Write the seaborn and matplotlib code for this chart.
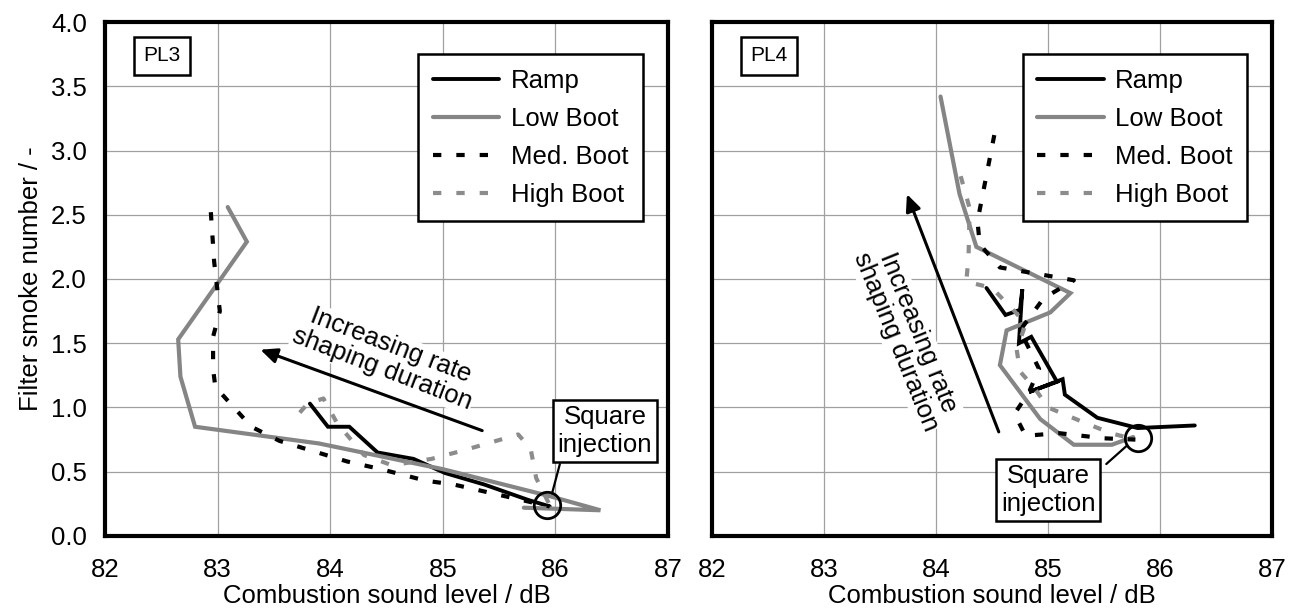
import matplotlib
matplotlib.use("Agg")
import matplotlib.pyplot as plt
from matplotlib.ticker import MultipleLocator, NullFormatter
import pandas as pd
import seaborn as sns

# ---- PL3 (left panel) ----
pl3_ramp_x = [83.82, 83.98, 84.17, 84.42, 84.74, 85.02, 85.37, 85.76, 85.95]
pl3_ramp_y = [1.03, 0.85, 0.85, 0.65, 0.60, 0.49, 0.40, 0.28, 0.23]
pl3_low_x = [83.09, 83.26, 82.65, 82.67, 82.80, 83.90, 85.00, 85.95, 86.40, 85.72]
pl3_low_y = [2.56, 2.29, 1.53, 1.24, 0.85, 0.72, 0.52, 0.31, 0.20, 0.22]
pl3_med_x = [82.94, 82.97, 83.02, 82.96, 82.96, 82.98, 83.30, 83.55, 84.15, 84.45, 84.85, 85.10, 85.55, 85.95]
pl3_med_y = [2.52, 2.13, 1.75, 1.55, 1.30, 1.16, 0.85, 0.74, 0.58, 0.52, 0.43, 0.40, 0.31, 0.23]
pl3_high_x = [83.73, 83.80, 83.94, 84.06, 84.30, 84.55, 84.90, 85.20, 85.67, 85.78, 85.83, 85.95]
pl3_high_y = [0.96, 1.03, 1.07, 0.88, 0.63, 0.55, 0.60, 0.67, 0.79, 0.68, 0.45, 0.24]

# ---- PL4 (right panel) ----
pl4_ramp_x = [84.45, 84.62, 84.75, 84.77, 84.74, 84.85, 85.08, 84.83, 85.13, 85.15, 85.44, 85.80, 86.31]
pl4_ramp_y = [1.93, 1.72, 1.76, 1.92, 1.50, 1.55, 1.20, 1.12, 1.22, 1.10, 0.92, 0.84, 0.86]
pl4_low_x = [84.04, 84.21, 84.36, 85.20, 85.02, 84.63, 84.57, 84.93, 85.23, 85.57, 85.76]
pl4_low_y = [3.42, 2.66, 2.25, 1.89, 1.74, 1.60, 1.33, 0.91, 0.71, 0.71, 0.77]
pl4_med_x = [84.52, 84.37, 84.39, 84.57, 84.97, 85.23, 84.96, 84.75, 84.92, 84.83, 84.70, 84.80, 85.10, 85.50, 85.78]
pl4_med_y = [3.12, 2.45, 2.27, 2.09, 2.03, 1.99, 1.85, 1.60, 1.30, 1.12, 0.95, 0.78, 0.80, 0.76, 0.75]
pl4_high_x = [84.22, 84.30, 84.29, 84.27, 84.50, 84.70, 84.80, 84.72, 84.75, 84.88, 85.00, 85.33, 85.56, 85.78]
pl4_high_y = [2.80, 2.55, 2.17, 1.98, 1.93, 1.75, 1.65, 1.45, 1.28, 1.15, 1.00, 0.88, 0.80, 0.75]

series_names = ["Ramp", "Low Boot", "Med. Boot", "High Boot"]
panel_names = ["PL3", "PL4"]

# annotation anchors (data coords)
square_pt = {"PL3": (85.93, 0.24), "PL4": (85.80, 0.76)}
square_box = {"PL3": (86.44, 0.82), "PL4": (85.00, 0.36)}
square_leader = {"PL3": ((86.04, 0.56), (85.97, 0.33)), "PL4": ((85.52, 0.56), (85.70, 0.70))}
arrow_tail = {"PL3": (85.35, 0.82), "PL4": (84.56, 0.81)}
arrow_head = {"PL3": (83.38, 1.45), "PL4": (83.74, 2.66)}
arrow_text = {"PL3": (84.50, 1.39, -21), "PL4": (83.74, 1.55, -68)}

colors = {"Ramp": "black", "Low Boot": "#858585", "Med. Boot": "black", "High Boot": "#8c8c8c"}
dashes = {"Ramp": None, "Low Boot": None, "Med. Boot": (2.0, 3.6), "High Boot": (2.0, 3.6)}
widths = {"Ramp": 2.8, "Low Boot": 3.0, "Med. Boot": 3.0, "High Boot": 3.0}
FS = 18.5


def build_frame(panel, sets):
    rows = []
    for name, (xs, ys) in zip(series_names, sets):
        for i, (x, y) in enumerate(zip(xs, ys)):
            rows.append({"panel": panel, "series": name, "step": i, "x": x, "y": y})
    return pd.DataFrame(rows)


df = pd.concat([
    build_frame("PL3", [(pl3_ramp_x, pl3_ramp_y), (pl3_low_x, pl3_low_y),
                        (pl3_med_x, pl3_med_y), (pl3_high_x, pl3_high_y)]),
    build_frame("PL4", [(pl4_ramp_x, pl4_ramp_y), (pl4_low_x, pl4_low_y),
                        (pl4_med_x, pl4_med_y), (pl4_high_x, pl4_high_y)]),
], ignore_index=True)

sns.set_style("white")
plt.rcParams["font.family"] = ["Liberation Sans", "DejaVu Sans"]
plt.rcParams["text.color"] = "black"
plt.rcParams["axes.labelcolor"] = "black"
plt.rcParams["xtick.color"] = "black"
plt.rcParams["ytick.color"] = "black"

fig = plt.figure(figsize=(12.93, 6.15), dpi=100)
axes = [fig.add_axes([0.0812, 0.1285, 0.4354, 0.8357]),
        fig.add_axes([0.5507, 0.1285, 0.4331, 0.8357])]

for ax, panel in zip(axes, panel_names):
    sub = df[df["panel"] == panel]
    handles = []
    for name in series_names:
        s = sub[sub["series"] == name]
        sns.lineplot(data=s, x="x", y="y", sort=False, estimator=None,
                     color=colors[name], lw=widths[name], ax=ax, legend=False)
        line = ax.lines[-1]
        line.set_label(name)
        line.set_solid_joinstyle("miter")
        if dashes[name]:
            line.set_dashes(dashes[name])
            line.set_dash_capstyle("butt")
        handles.append(line)

    ax.set_xlim(82, 87)
    ax.set_ylim(0, 4)
    ax.xaxis.set_major_locator(MultipleLocator(1))
    ax.xaxis.set_minor_locator(MultipleLocator(0.2))
    ax.yaxis.set_major_locator(MultipleLocator(0.5))
    ax.yaxis.set_minor_locator(MultipleLocator(0.0625))
    ax.yaxis.set_major_formatter(matplotlib.ticker.FormatStrFormatter("%.1f"))
    ax.grid(True, which="major", color="#a0a0a0", lw=0.9)
    ax.set_axisbelow(True)
    ax.tick_params(which="major", direction="out", length=6, width=2.4,
                   labelsize=FS, labelcolor="black", color="black", pad=7)
    ax.tick_params(axis="x", which="major", pad=10)
    ax.tick_params(which="minor", direction="out", length=4, width=2.2, color="black")
    for sp in ax.spines.values():
        sp.set_linewidth(3.0)
        sp.set_color("black")
    ax.set_xlabel("Combustion sound level / dB", fontsize=FS, labelpad=1, color="black")

    if panel == "PL3":
        ax.set_ylabel("Filter smoke number / -", fontsize=FS, labelpad=6, color="black")
    else:
        ax.set_ylabel("")
        ax.yaxis.set_major_formatter(NullFormatter())

    leg = ax.legend(handles=handles, loc="upper right",
                    bbox_to_anchor=(0.955, 0.937), fontsize=FS,
                    frameon=True, fancybox=False, framealpha=1,
                    handlelength=2.6, handletextpad=0.45, labelspacing=0.55,
                    borderpad=0.55, borderaxespad=0)
    leg.get_frame().set_edgecolor("black")
    leg.get_frame().set_linewidth(1.8)
    for t in leg.get_texts():
        t.set_color("black")

    ax.text(0.101, 0.934, panel, transform=ax.transAxes, fontsize=15,
            ha="center", va="center",
            bbox=dict(boxstyle="square,pad=0.45", fc="white", ec="black", lw=1.8))

    # circle marking square injection
    cx, cy = square_pt[panel]
    ax.plot([cx], [cy], marker="o", ms=19, mfc="none", mec="black", mew=2.0, zorder=5)
    (lx0, ly0), (lx1, ly1) = square_leader[panel]
    ax.plot([lx0, lx1], [ly0, ly1], color="black", lw=1.6, zorder=5)
    bx, by = square_box[panel]
    ax.text(bx, by, "Square\ninjection", fontsize=FS, ha="center", va="center",
            linespacing=1.2, zorder=6,
            bbox=dict(boxstyle="square,pad=0.2", fc="white", ec="black", lw=1.8))

    # direction arrow
    ax.annotate("", xy=arrow_head[panel], xytext=arrow_tail[panel],
                arrowprops=dict(arrowstyle="-|>,head_length=1.0,head_width=0.45",
                                color="black", lw=2.2, shrinkA=0, shrinkB=0))
    tx, ty, rot = arrow_text[panel]
    ax.text(tx, ty, "Increasing rate\nshaping duration", fontsize=FS,
            ha="center", va="center", rotation=rot, rotation_mode="anchor",
            linespacing=1.05, zorder=4,
            bbox=dict(boxstyle="square,pad=0.05", fc="white", ec="none"))

fig.savefig("out.png", dpi=100)
